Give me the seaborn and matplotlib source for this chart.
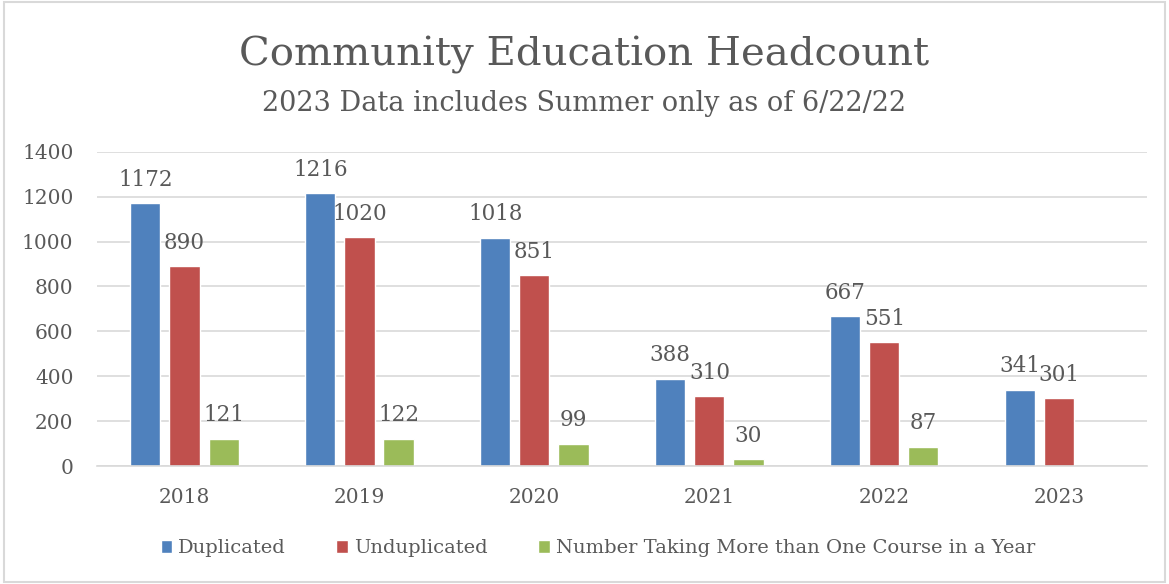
import numpy as np
import pandas as pd
import matplotlib
matplotlib.use("Agg")
import matplotlib.pyplot as plt
import seaborn as sns

# data
years = ["2018", "2019", "2020", "2021", "2022", "2023"]
duplicated = [1172, 1216, 1018, 388, 667, 341]
unduplicated = [890, 1020, 851, 310, 551, 301]
more_than_one = [121, 122, 99, 30, 87, np.nan]

series_names = ["Duplicated", "Unduplicated", "Number Taking More than One Course in a Year"]
colors = ["#4F81BD", "#C0504D", "#9BBB59"]
text_color = "#595959"

df = pd.DataFrame({
    "year": years * 3,
    "series": [s for s in series_names for _ in years],
    "value": duplicated + unduplicated + more_than_one,
})

sns.set_theme(style="white")
plt.rcParams["font.family"] = ["DejaVu Serif"]

fig = plt.figure(figsize=(11.69, 5.84), dpi=100)
ax = fig.add_axes([0.083, 0.202, 0.898, 0.538])

sns.barplot(
    data=df, x="year", y="value", hue="series",
    palette=colors, width=0.67, gap=0.23, ax=ax,
    saturation=1, errorbar=None,
)

for cont in ax.containers:
    ax.bar_label(cont, fmt="%.0f", padding=9, fontsize=15.5, color=text_color)

ax.set_ylim(0, 1400)
ax.set_yticks(range(0, 1401, 200))
ax.set_xlim(-0.5, 5.5)
ax.grid(axis="y", color="#d9d9d9", linewidth=1.2)
ax.set_axisbelow(True)
for s in ["top", "right", "left"]:
    ax.spines[s].set_visible(False)
ax.spines["bottom"].set_color("#d9d9d9")
ax.spines["bottom"].set_linewidth(1.2)
ax.tick_params(axis="y", labelsize=14.5, colors=text_color, length=0, pad=17)
ax.tick_params(axis="x", labelsize=14.5, colors=text_color, length=0, pad=16)
ax.set_xlabel("")
ax.set_ylabel("")

fig.text(0.5, 0.905, "Community Education Headcount", ha="center", va="center",
         fontsize=29, color=text_color)
fig.text(0.5, 0.822, "2023 Data includes Summer only as of 6/22/22", ha="center",
         va="center", fontsize=19.5, color=text_color)

leg = ax.legend(loc="center", bbox_to_anchor=(0.477, -0.262), ncol=3, frameon=False,
                fontsize=14, handlelength=0.6, handleheight=0.6, handletextpad=0.3,
                columnspacing=2.6)
for t in leg.get_texts():
    t.set_color(text_color)

fig.patches.append(plt.Rectangle((0.003, 0.003), 0.994, 0.994, transform=fig.transFigure,
                                 fill=False, edgecolor="#d9d9d9", linewidth=1.5))

fig.savefig("out.png", dpi=100)
